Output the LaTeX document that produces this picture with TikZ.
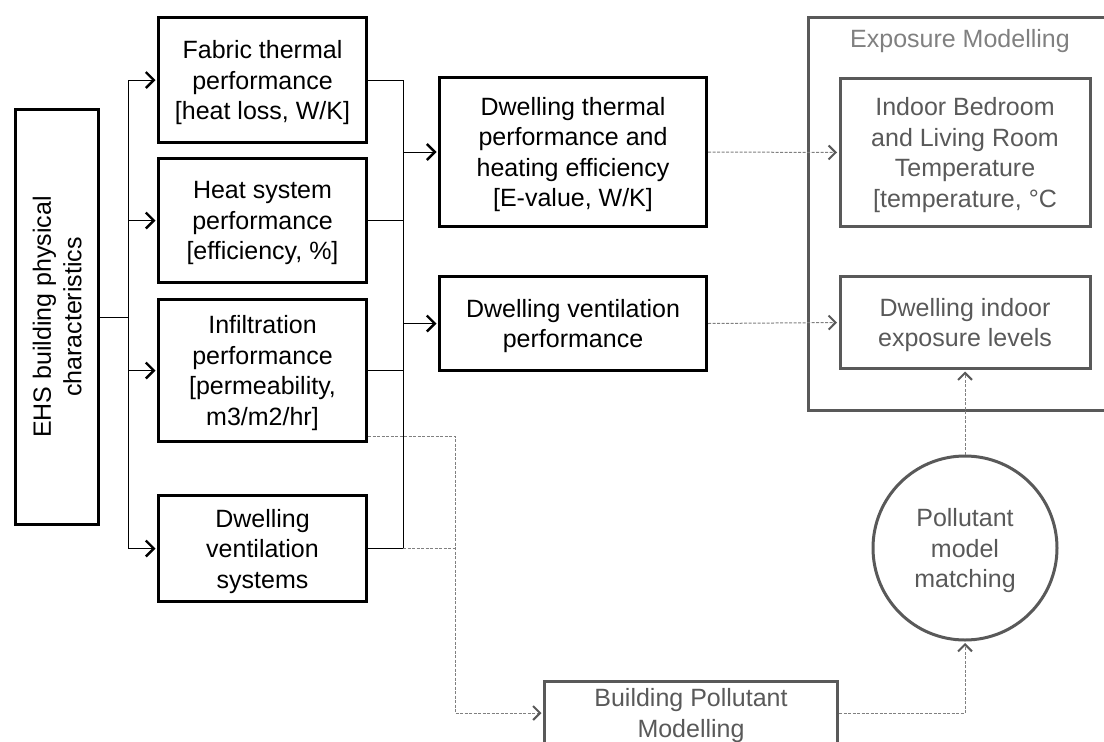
\documentclass[tikz,border=0pt]{standalone}
\usepackage{fontspec}
\setmainfont{Liberation Sans}
\usetikzlibrary{arrows.meta}
\definecolor{boxgrey}{HTML}{595959}
\definecolor{linegrey}{HTML}{808080}

\begin{document}
\begin{tikzpicture}[x=1pt,y=-1pt,
    font=\fontsize{25}{30.5}\selectfont,
    box/.style={draw, line width=3pt, align=center, inner sep=0pt, text depth=-3pt},
    greybox/.style={box, draw=boxgrey, text=boxgrey},
    feed/.style={line width=1pt, shorten >=1.5pt,
      -{Straight Barb[length=8pt,width=16pt,line width=2.4pt]}},
    link/.style={line width=1pt, draw=linegrey, dash pattern=on 3pt off 1.5pt},
    linktip/.style={link, shorten >=1.5pt,
      -{Straight Barb[length=7pt,width=14pt,line width=2pt,color=boxgrey]}}]
\useasboundingbox (0,0) rectangle (1104,742);
%
% Inputs
\node[box, rotate=90, minimum width=415pt, minimum height=83pt] (ehs) at (57,317)
     {EHS building physical\\characteristics};
\node[box, minimum width=208pt, minimum height=125pt] (fabric) at (262.5,80)
     {Fabric thermal\\performance\\{[}heat loss, W/K{]}};
\node[box, minimum width=208pt, minimum height=124pt] (heat) at (262.5,220.5)
     {Heat system\\performance\\{[}efficiency, \%{]}};
\node[box, minimum width=208pt, minimum height=142pt] (infil) at (262.5,370.5)
     {Infiltration\\performance\\{[}permeability,\\m3/m2/hr{]}};
\node[box, minimum width=208pt, minimum height=106pt] (dvsys) at (262.5,548.5)
     {Dwelling\\ventilation\\systems};
%
% Dwelling performance
\node[box, minimum width=267pt, minimum height=149pt] (dtp) at (573,152)
     {Dwelling thermal\\performance and\\heating efficiency\\{[}E-value, W/K{]}};
\node[box, minimum width=267pt, minimum height=94pt] (dvp) at (573,323.5)
     {Dwelling ventilation\\performance};
%
% Exposure Modelling
\draw[boxgrey, line width=3pt] (808.5,17.5) rectangle (1120,410.5);
\node[text=linegrey] (title) at (960,41) {Exposure Modelling};
\node[greybox, minimum width=250pt, minimum height=148pt] (indoor) at (965,152.5)
     {Indoor Bedroom\\and Living Room\\Temperature\\{[}temperature, °C};
\node[greybox, minimum width=250pt, minimum height=92pt] (dwind) at (965,322.5)
     {Dwelling indoor\\exposure levels};
%
% Pollutant side
\node[greybox, circle, minimum size=184pt] (match) at (965,548)
     {Pollutant\\model\\matching};
\node[greybox, minimum width=293pt, minimum height=63pt] (bpm) at (691,713)
     {Building Pollutant\\Modelling};
%
% Connectors
\coordinate (fork)  at (128,317);
\coordinate (merge) at (403,317);
\coordinate (drop)  at (455,435);
\draw[line width=1pt] (ehs.south) -- (fork);
\foreach \n in {fabric,heat,infil,dvsys} \draw[feed] (fork) |- (\n.west);
\foreach \n in {fabric,heat,infil,dvsys} \draw[line width=1pt] (\n.east) -| (merge);
\draw[feed] (merge |- dtp.west) -- (dtp.west);
\draw[feed] (merge |- dvp.west) -- (dvp.west);
%
% Dashed links
\draw[linktip] (dtp.east) -- (indoor.west);
\draw[linktip] (dvp.east) -- (dwind.west);
\draw[linktip] ([yshift=7pt]infil.south east) -- ([yshift=7pt]infil.south east -| drop)
               |- (bpm.west);
\draw[link] (merge |- dvsys.east) -- (drop |- dvsys.east);
\draw[linktip] (bpm.east) -| (match.south);
\draw[linktip] (match.north) -- (dwind.south);
%
\end{tikzpicture}
\end{document}
